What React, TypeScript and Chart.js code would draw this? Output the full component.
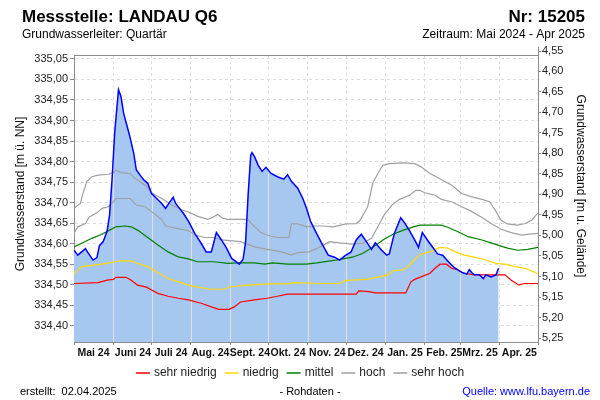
import React, { useEffect, useRef } from 'react';
import { Chart, registerables } from 'chart.js';

Chart.register(...registerables);

const FONT = "'Liberation Sans', Arial, sans-serif";

// Day offsets from 1 May 2024 of the month boundaries and the month labels
const monthStarts = [0, 31, 61, 92, 123, 153, 184, 214, 245, 276, 304, 335, 365];
const monthLabels = ['Mai 24', 'Juni 24', 'Juli 24', 'Aug. 24', 'Sept. 24', 'Okt. 24', 'Nov. 24', 'Dez. 24', 'Jan. 25', 'Feb. 25', 'Mrz. 25', 'Apr. 25'];

const leftTickValues = [334.40, 334.45, 334.50, 334.55, 334.60, 334.65, 334.70, 334.75, 334.80, 334.85, 334.90, 334.95, 335.00, 335.05];
const rightTickValues = [4.60, 4.65, 4.70, 4.75, 4.80, 4.85, 4.90, 4.95, 5.00, 5.05, 5.10, 5.15, 5.20, 5.25];
const rightExtraTick = 4.55;

// Measured groundwater level (m ü. NN)
const levelDays = [0, 3, 6, 9, 11, 15, 18, 20, 23, 26, 28, 30, 32, 35, 37, 39, 41, 44, 47, 49, 52, 55, 58, 61, 65, 69, 72, 75, 78, 80, 83, 86, 90, 95, 100, 104, 108, 112, 116, 120, 124, 128, 130, 133, 135, 137, 139, 140, 142, 145, 148, 151, 155, 160, 165, 168, 171, 176, 180, 183, 186, 190, 195, 200, 205, 209, 213, 218, 222, 226, 230, 234, 237, 242, 246, 248, 252, 257, 260, 264, 268, 271, 274, 278, 282, 286, 290, 294, 299, 305, 309, 311, 313, 315, 319, 322, 324, 328, 332, 334];
const levelValues = [334.584, 334.572, 334.580, 334.588, 334.578, 334.560, 334.566, 334.595, 334.605, 334.630, 334.670, 334.760, 334.870, 334.975, 334.958, 334.918, 334.895, 334.860, 334.820, 334.780, 334.767, 334.755, 334.747, 334.722, 334.710, 334.698, 334.686, 334.700, 334.713, 334.698, 334.686, 334.674, 334.655, 334.625, 334.601, 334.580, 334.580, 334.627, 334.609, 334.589, 334.564, 334.555, 334.550, 334.562, 334.605, 334.720, 334.815, 334.822, 334.812, 334.790, 334.776, 334.786, 334.771, 334.763, 334.757, 334.768, 334.752, 334.735, 334.710, 334.685, 334.655, 334.630, 334.600, 334.572, 334.567, 334.560, 334.570, 334.580, 334.609, 334.623, 334.605, 334.586, 334.602, 334.584, 334.572, 334.575, 334.625, 334.663, 334.651, 334.631, 334.609, 334.591, 334.627, 334.609, 334.592, 334.575, 334.572, 334.558, 334.542, 334.530, 334.526, 334.537, 334.529, 334.524, 334.524, 334.515, 334.524, 334.519, 334.524, 334.540];

// Statistical reference lines
const sehrNiedrigDays = [0, 19, 26, 31, 33, 41, 45, 50, 57, 61, 66, 74, 82, 90, 100, 108, 114, 122, 126, 131, 142, 152, 160, 168, 222, 224, 232, 237, 261, 265, 268, 273, 280, 284, 288, 293, 297, 302, 307, 315, 339, 344, 350, 354, 365];
const sehrNiedrigValues = [334.503, 334.505, 334.511, 334.513, 334.518, 334.518, 334.511, 334.499, 334.494, 334.487, 334.479, 334.472, 334.467, 334.463, 334.455, 334.446, 334.440, 334.440, 334.446, 334.458, 334.463, 334.467, 334.472, 334.477, 334.477, 334.485, 334.483, 334.480, 334.480, 334.507, 334.513, 334.519, 334.528, 334.540, 334.550, 334.550, 334.540, 334.536, 334.528, 334.524, 334.524, 334.511, 334.499, 334.503, 334.503];

const niedrigDays = [0, 2, 6, 14, 22, 28, 32, 37, 45, 49, 58, 66, 74, 82, 90, 97, 108, 118, 123, 137, 152, 168, 173, 193, 209, 213, 219, 230, 240, 247, 251, 259, 264, 268, 273, 280, 284, 288, 294, 300, 307, 314, 322, 332, 339, 347, 355, 361, 365];
const niedrigValues = [334.528, 334.532, 334.544, 334.547, 334.550, 334.553, 334.556, 334.558, 334.558, 334.553, 334.544, 334.529, 334.515, 334.507, 334.499, 334.494, 334.489, 334.489, 334.495, 334.499, 334.502, 334.502, 334.505, 334.503, 334.503, 334.510, 334.511, 334.513, 334.519, 334.524, 334.534, 334.536, 334.548, 334.562, 334.575, 334.580, 334.586, 334.591, 334.589, 334.580, 334.572, 334.568, 334.562, 334.552, 334.550, 334.544, 334.540, 334.532, 334.526];

const mittelDays = [0, 6, 14, 22, 28, 33, 40, 45, 50, 58, 66, 74, 82, 90, 97, 110, 121, 129, 142, 150, 156, 168, 183, 191, 206, 219, 227, 235, 243, 251, 259, 267, 272, 289, 294, 302, 310, 321, 331, 341, 349, 357, 365];
const mittelValues = [334.592, 334.601, 334.613, 334.623, 334.633, 334.641, 334.643, 334.641, 334.633, 334.615, 334.597, 334.580, 334.568, 334.563, 334.556, 334.556, 334.552, 334.553, 334.553, 334.550, 334.553, 334.550, 334.550, 334.553, 334.560, 334.567, 334.576, 334.591, 334.609, 334.623, 334.633, 334.641, 334.645, 334.645, 334.640, 334.629, 334.617, 334.609, 334.599, 334.589, 334.584, 334.586, 334.591];

const hochDays = [0, 3, 9, 12, 18, 22, 27, 31, 33, 44, 49, 56, 61, 69, 72, 77, 85, 90, 95, 103, 110, 116, 131, 138, 142, 152, 163, 171, 176, 185, 193, 201, 209, 219, 227, 234, 239, 244, 250, 256, 264, 269, 272, 276, 284, 289, 297, 305, 313, 321, 328, 336, 344, 352, 358, 365];
const hochValues = [334.625, 334.641, 334.649, 334.665, 334.675, 334.686, 334.690, 334.702, 334.710, 334.710, 334.694, 334.690, 334.678, 334.659, 334.643, 334.640, 334.635, 334.632, 334.621, 334.615, 334.615, 334.609, 334.605, 334.597, 334.592, 334.586, 334.580, 334.572, 334.578, 334.580, 334.591, 334.605, 334.602, 334.599, 334.601, 334.613, 334.641, 334.670, 334.694, 334.708, 334.718, 334.730, 334.730, 334.724, 334.718, 334.708, 334.702, 334.690, 334.678, 334.664, 334.649, 334.635, 334.627, 334.621, 334.623, 334.625];

const sehrHochDays = [0, 5, 7, 10, 14, 19, 27, 31, 33, 37, 44, 48, 52, 57, 61, 69, 77, 85, 90, 97, 105, 109, 113, 117, 121, 137, 139, 147, 155, 160, 169, 171, 176, 183, 188, 196, 204, 214, 222, 225, 231, 235, 239, 243, 248, 259, 268, 273, 280, 286, 292, 297, 305, 313, 321, 327, 332, 336, 341, 349, 355, 360, 365];
const sehrHochValues = [334.686, 334.698, 334.722, 334.751, 334.763, 334.767, 334.769, 334.773, 334.779, 334.773, 334.771, 334.759, 334.751, 334.740, 334.724, 334.710, 334.694, 334.682, 334.677, 334.667, 334.659, 334.664, 334.671, 334.662, 334.659, 334.659, 334.651, 334.627, 334.618, 334.615, 334.615, 334.648, 334.648, 334.641, 334.643, 334.643, 334.641, 334.648, 334.649, 334.657, 334.690, 334.747, 334.771, 334.791, 334.795, 334.797, 334.795, 334.787, 334.771, 334.761, 334.751, 334.743, 334.722, 334.714, 334.708, 334.702, 334.678, 334.657, 334.648, 334.645, 334.649, 334.657, 334.675];

const titleText = 'Messstelle: LANDAU Q6';
const numberText = 'Nr: 15205';
const aquiferText = 'Grundwasserleiter: Quartär';
const periodText = 'Zeitraum: Mai 2024 - Apr 2025';
const leftAxisTitle = 'Grundwasserstand [m ü. NN]';
const rightAxisTitle = 'Grundwasserstand [m u. Gelände]';
const createdText = 'erstellt:  02.04.2025';
const rawText = '- Rohdaten -';
const sourceText = 'Quelle: www.lfu.bayern.de';

const toPoints = (days: number[], values: number[]) => days.map((d, i) => ({ x: d, y: values[i] }));
const fmt = (v: number) => v.toFixed(2).replace('.', ',');

const FILL_INDEX = 6;

const decorPlugin = {
  id: 'decor',
  afterDatasetDraw(chart: any, args: any) {
    if (args.index !== FILL_INDEX) return;
    const { ctx, chartArea } = chart;
    const xs = chart.scales.x;
    ctx.save();
    ctx.globalCompositeOperation = 'source-atop';
    ctx.strokeStyle = '#e2e2e2';
    ctx.lineWidth = 1;
    for (let i = 1; i < monthStarts.length - 1; i++) {
      const px = Math.round(xs.getPixelForValue(monthStarts[i])) + 0.5;
      ctx.beginPath();
      ctx.moveTo(px, chartArea.top);
      ctx.lineTo(px, chartArea.bottom);
      ctx.stroke();
    }
    ctx.restore();
  },
  afterDraw(chart: any) {
    const { ctx, chartArea } = chart;
    ctx.save();
    // top frame line
    ctx.strokeStyle = '#8c8c8c';
    ctx.lineWidth = 1;
    const ty = Math.round(chartArea.top) + 0.5;
    ctx.beginPath();
    ctx.moveTo(chartArea.left, ty);
    ctx.lineTo(chartArea.right, ty);
    ctx.stroke();

    // extra tick of right axis above the plot
    const r = chart.scales.y2;
    const py = r.getPixelForValue(rightExtraTick);
    const ax = Math.round(r.left) + 0.5;
    ctx.beginPath();
    ctx.moveTo(ax, py - 4);
    ctx.lineTo(ax, chartArea.top);
    ctx.moveTo(ax, Math.round(py) + 0.5);
    ctx.lineTo(ax + 3, Math.round(py) + 0.5);
    ctx.stroke();
    ctx.fillStyle = '#222';
    ctx.font = `11px ${FONT}`;
    ctx.textAlign = 'left';
    ctx.textBaseline = 'middle';
    ctx.fillText(fmt(rightExtraTick), r.left + 4, py);

    // titles
    ctx.fillStyle = '#000';
    ctx.textBaseline = 'alphabetic';
    ctx.font = `bold 17px ${FONT}`;
    ctx.textAlign = 'left';
    ctx.fillText(titleText, 22, 22);
    ctx.textAlign = 'right';
    ctx.fillText(numberText, 585, 22);
    ctx.font = `12px ${FONT}`;
    ctx.textAlign = 'left';
    ctx.fillText(aquiferText, 22, 38);
    ctx.textAlign = 'right';
    ctx.fillText(periodText, 585, 38);

    // axis titles
    ctx.fillStyle = '#111';
    ctx.font = `12px ${FONT}`;
    ctx.textAlign = 'center';
    ctx.textBaseline = 'middle';
    ctx.save();
    ctx.translate(21, 194);
    ctx.rotate(-Math.PI / 2);
    ctx.fillText(leftAxisTitle, 0, 0);
    ctx.restore();
    ctx.save();
    ctx.translate(580, 186);
    ctx.rotate(Math.PI / 2);
    ctx.fillText(rightAxisTitle, 0, 0);
    ctx.restore();

    // legend from the statistic datasets
    const items = chart.data.datasets.filter((d: any) => d.inLegend);
    ctx.font = `12px ${FONT}`;
    const lineLen = 14, gapLine = 4, gapItem = 8;
    let total = 0;
    items.forEach((d: any, i: number) => {
      total += lineLen + gapLine + ctx.measureText(d.label).width + (i < items.length - 1 ? gapItem : 0);
    });
    let lx = 300 - total / 2;
    const ly = 373;
    ctx.textAlign = 'left';
    ctx.textBaseline = 'middle';
    items.forEach((d: any) => {
      ctx.strokeStyle = d.borderColor;
      ctx.lineWidth = 1.5;
      ctx.beginPath();
      ctx.moveTo(lx, ly);
      ctx.lineTo(lx + lineLen, ly);
      ctx.stroke();
      lx += lineLen + gapLine;
      ctx.fillStyle = '#222';
      ctx.fillText(d.label, lx, ly);
      lx += ctx.measureText(d.label).width + gapItem;
    });

    // footer
    ctx.font = `11px ${FONT}`;
    ctx.textBaseline = 'alphabetic';
    ctx.fillStyle = '#000';
    ctx.textAlign = 'left';
    ctx.fillText(createdText, 20, 395);
    ctx.textAlign = 'center';
    ctx.fillText(rawText, 310, 395);
    ctx.textAlign = 'right';
    ctx.fillStyle = '#0000ff';
    ctx.fillText(sourceText, 590, 395);
    ctx.restore();
  },
};

export default function App() {
  const canvasRef = useRef<HTMLCanvasElement | null>(null);

  useEffect(() => {
    const canvas = canvasRef.current;
    if (!canvas) return;
    const statLine = (label: string, days: number[], values: number[], color: string, order: number) => ({
      label,
      data: toPoints(days, values),
      borderColor: color,
      backgroundColor: color,
      borderWidth: 1.2,
      pointRadius: 0,
      fill: false,
      tension: 0,
      order,
      inLegend: true,
    });
    const chart = new Chart(canvas, {
      type: 'line',
      data: {
        datasets: [
          {
            label: 'Grundwasserstand',
            data: toPoints(levelDays, levelValues),
            borderColor: '#0000ff',
            borderWidth: 1.5,
            pointRadius: 0,
            fill: false,
            tension: 0,
            order: 0,
          } as any,
          statLine('sehr niedrig', sehrNiedrigDays, sehrNiedrigValues, '#ff0000', 1),
          statLine('niedrig', niedrigDays, niedrigValues, '#ffd700', 2),
          statLine('mittel', mittelDays, mittelValues, '#008000', 3),
          statLine('hoch', hochDays, hochValues, '#a0a0a0', 4),
          statLine('sehr hoch', sehrHochDays, sehrHochValues, '#a0a0a0', 5),
          {
            label: 'Fläche',
            data: toPoints(levelDays, levelValues),
            borderColor: 'rgba(0,0,0,0)',
            borderWidth: 0,
            backgroundColor: '#a6c8f0',
            pointRadius: 0,
            fill: 'start',
            tension: 0,
            order: 10,
          } as any,
        ],
      },
      options: {
        responsive: false,
        animation: false,
        layout: { padding: { top: 55, left: 0, right: 0, bottom: 0 } },
        plugins: { legend: { display: false }, tooltip: { enabled: false } },
        scales: {
          x: {
            type: 'linear',
            min: 0,
            max: 365,
            afterBuildTicks: (s: any) => { s.ticks = monthStarts.map((v) => ({ value: v })); },
            afterFit: (s: any) => { s.height = 58; s.paddingLeft = 0; s.paddingRight = 0; },
            ticks: {
              autoSkip: false,
              maxRotation: 0,
              minRotation: 0,
              labelOffset: 19.5,
              padding: 2,
              color: '#111',
              font: { family: FONT, size: 10.5, weight: 'bold' },
              callback: (_v: any, i: number) => monthLabels[i] ?? '',
            },
            grid: { color: '#dcdcdc', lineWidth: 1, tickLength: 3, tickColor: '#8c8c8c' },
            border: { display: true, color: '#8c8c8c', dash: [3, 3] },
          },
          y: {
            type: 'linear',
            position: 'left',
            min: 334.3605,
            max: 335.0595,
            afterBuildTicks: (s: any) => { s.ticks = leftTickValues.map((v) => ({ value: v })); },
            afterFit: (s: any) => { s.width = 74; s.paddingTop = 0; s.paddingBottom = 0; },
            ticks: {
              padding: 2,
              color: '#222',
              font: { family: FONT, size: 11 },
              callback: (v: any) => fmt(Number(v)),
            },
            grid: { color: '#dcdcdc', lineWidth: 1, tickLength: 4, tickColor: '#8c8c8c' },
            border: { display: true, color: '#8c8c8c', dash: [3, 3] },
          },
          y2: {
            type: 'linear',
            position: 'right',
            reverse: true,
            min: 4.5605,
            max: 5.2595,
            afterBuildTicks: (s: any) => { s.ticks = rightTickValues.map((v) => ({ value: v })); },
            afterFit: (s: any) => { s.width = 62; s.paddingTop = 0; s.paddingBottom = 0; },
            ticks: {
              padding: 1,
              color: '#222',
              font: { family: FONT, size: 11 },
              callback: (v: any) => fmt(Number(v)),
            },
            grid: { drawOnChartArea: false, tickLength: 3, tickColor: '#8c8c8c' },
            border: { display: true, color: '#8c8c8c' },
          },
        },
      } as any,
      plugins: [decorPlugin],
    });
    return () => chart.destroy();
  }, []);

  return (
    <div style={{ position: 'absolute', left: 0, top: 0, width: 600, height: 400, background: '#fff' }}>
      <canvas ref={canvasRef} width={600} height={400} style={{ width: 600, height: 400 }} />
    </div>
  );
}
